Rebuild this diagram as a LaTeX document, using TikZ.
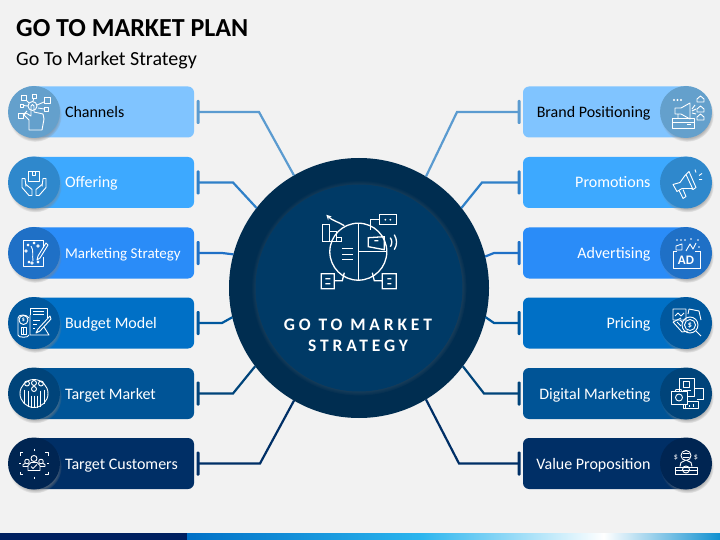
\documentclass[tikz,border=0pt]{standalone}
\usepackage{fontspec}
\setmainfont{Carlito}
\newfontfamily\hubfont[LetterSpace=22]{Carlito}
\usetikzlibrary{shadows}
\definecolor{bgc}{HTML}{F2F2F2}
\definecolor{hubo}{HTML}{002D50}
\definecolor{hubi}{HTML}{003A66}
\definecolor{stripA}{HTML}{002060}
\definecolor{stripB}{HTML}{2BB5EE}
\definecolor{stripC}{HTML}{1090D0}
\definecolor{barA}{HTML}{80C4FF}\definecolor{cirA}{HTML}{64A0CC}\definecolor{conA}{HTML}{5B9BD0}
\definecolor{barB}{HTML}{3DA9FF}\definecolor{cirB}{HTML}{2F88CC}\definecolor{conB}{HTML}{2F80C8}
\definecolor{barC}{HTML}{2A8CF8}\definecolor{cirC}{HTML}{1F70C6}\definecolor{conC}{HTML}{1F70C6}
\definecolor{barD}{HTML}{0070C6}\definecolor{cirD}{HTML}{00589E}\definecolor{conD}{HTML}{00589E}
\definecolor{barE}{HTML}{005496}\definecolor{cirE}{HTML}{00447A}\definecolor{conE}{HTML}{00447A}
\definecolor{barF}{HTML}{002F66}\definecolor{cirF}{HTML}{002552}\definecolor{conF}{HTML}{002F66}
\tikzset{
  x=1pt,y=-1pt,
  barbox/.style={draw=none,rounded corners=6pt,minimum height=51pt,inner sep=0pt,outer sep=0pt},
  discbox/.style={circle,minimum size=52pt,inner sep=0pt,outer sep=0pt,
    circular drop shadow={shadow xshift=1pt,shadow yshift=-3pt,shadow scale=1.03,opacity=.55}},
  labelbox/.style={font=\fontsize{16}{18}\selectfont,text height=14pt,text depth=3pt,inner sep=0pt,outer sep=0pt},
  tee/.style={rectangle,minimum width=3pt,minimum height=24pt,inner sep=0pt,outer sep=0pt,rounded corners=1pt},
  link/.style={line width=2.2pt,line join=miter},
  ico/.style={draw=white,line width=.9pt,fill=none,line join=round},
  hubico/.style={draw=white,line width=1.3pt,fill=none},
}
\newcommand\rowL[6]{%
  \node[barbox,fill=bar#2,minimum width=170pt,anchor=west] (barL#1) at (24,#3) {};
  \node[discbox,fill=cir#2] (discL#1) at (34,#3) {};
  \node[labelbox,anchor=west,text=#5] (txtL#1) at (65,#3) {#4};
  \node[tee,fill=con#2] (teeL#1) at (198,#3) {};
  \draw[link,draw=con#2] (teeL#1.center) -- #6;
}
\newcommand\rowR[6]{%
  \node[barbox,fill=bar#2,minimum width=170pt,anchor=east] (barR#1) at (693,#3) {};
  \node[discbox,fill=cir#2] (discR#1) at (686,#3) {};
  \node[labelbox,anchor=east,text=#5] (txtR#1) at (650.5,#3) {#4};
  \node[tee,fill=con#2] (teeR#1) at (519,#3) {};
  \draw[link,draw=con#2] (teeR#1.center) -- #6;
}
\begin{document}
\begin{tikzpicture}
\useasboundingbox (0,0) rectangle (720,540);
\fill[bgc] (0,0) rectangle (720,540);
% title
\node[anchor=base west,inner sep=0pt,font=\bfseries\fontsize{26}{30}\selectfont] (title) at (16,37) {GO TO MARKET PLAN};
\node[anchor=base west,inner sep=0pt,font=\fontsize{20}{24}\selectfont] (subtitle) at (16,66) {Go To Market Strategy};
% bottom strip
\fill[stripA] (0,533) rectangle (187.5,540);
\shade[left color=barD,right color=stripB] (187,533) rectangle (420,540);
\shade[left color=stripB,right color=white] (419.5,533) rectangle (604,540);
\shade[left color=white,right color=stripC] (603.5,533) rectangle (720,540);
% hub
\node[circle,fill=hubo,minimum size=260pt,inner sep=0pt,outer sep=0pt] (hub) at (359,288) {};
\node[circle,fill=hubi,minimum size=207pt,inner sep=0pt,outer sep=0pt,
  circular drop shadow={shadow xshift=0pt,shadow yshift=0pt,shadow scale=1.04,opacity=.6}] (hubin) at (359,288) {};
\node[font=\hubfont\bfseries\fontsize{17.5}{21}\selectfont,text=white,align=center,inner sep=0pt] (hubtxt) at (358,335.5) {GO TO MARKET\\STRATEGY};
% rows
\rowL{1}{A}{112}{Channels}{black}{(259,112) -- (hub.120.5)}
\rowL{2}{B}{182.5}{Offering}{white}{(233,182.5) -- (hub.142.2)}
\rowL{3}{C}{253}{\fontsize{15}{18}\selectfont Marketing Strategy}{white}{(222,253) -- (hub.165.7)}
\rowL{4}{D}{323}{Budget Model}{white}{(222,323) -- (hub.193.8)}
\rowL{5}{E}{393.5}{Target Market}{white}{(233,393.5) -- (hub.217.5)}
\rowL{6}{F}{463.5}{Target Customers}{white}{(260,463.5) -- (hub.240.3)}
\rowR{1}{A}{112}{Brand Positioning}{black}{(457,112) -- (hub.59.9)}
\rowR{2}{B}{182.5}{Promotions}{white}{(482,182.5) -- (hub.38.8)}
\rowR{3}{C}{253}{Advertising}{white}{(494,253) -- (hub.14.3)}
\rowR{4}{D}{323}{Pricing}{white}{(494,323) -- (hub.-13.8)}
\rowR{5}{E}{393.5}{Digital Marketing}{white}{(484,393.5) -- (hub.-37.5)}
\rowR{6}{F}{463.5}{Value Proposition}{white}{(459,463.5) -- (hub.-59)}
% hub icon
\begin{scope}[shift={(358.3,251.7)}]
 \draw[hubico] (0,0) circle (28.5);
 \draw[hubico] (0,-28.5) -- (0,28.5) (0,0) -- (28.5,0);
 \draw[hubico] (-16,-3) -- (-5,-3) (-16,3) -- (-5,3) (-16,8) -- (-5,8);
 \draw[hubico] (-36,-27) rectangle (-29,-10) (-29,-20) rectangle (-22,-10) (-22,-14) rectangle (-17,-10);
 \draw[hubico,-stealth] (-14,-26) .. controls (-20,-30) and (-26,-31) .. (-32,-37);
 \draw[hubico] (-37,22) rectangle (-24,37) (-33,27) -- (-28,27) (-33,32) -- (-28,32) (-24,29) -- (-16,29) -- (-14,21);
 \draw[hubico] (24,22) rectangle (38,37) (29,27) -- (33,27) (29,32) -- (33,32) (24,29) -- (16,29) -- (14,21);
 \draw[hubico] (21,-37) rectangle (38,-27) (21,-32) -- (12,-32) -- (12,-22);
 \draw[hubico] (10,-14) -- (10,-5) -- (26,-2) -- (26,-15) -- cycle (16,-11) -- (20,-11);
 \draw[hubico] (32,-14) .. controls (34,-11) and (34,-8) .. (32,-5) (36,-17) .. controls (39,-12) and (39,-7) .. (36,-2);
 \fill[white] (27,-32) circle (1) (32,-32) circle (1);
\end{scope}
% L1 channels
\begin{scope}[shift={(34,112)}]
 \draw[ico] (-5,18) -- (-5,8) -- (-10,3) -- (-8,1) -- (-3,4) -- (-3,-6) .. controls (-3,-8) and (0,-8) .. (0,-6) -- (0,0) -- (9,2) -- (10,7) -- (8,18) -- cycle;
 \draw[ico] (-1.5,-6) circle (4.5);
 \draw[ico] (-13,-17) rectangle (-8,-12) (-2,-18) rectangle (2,-14) (10,-15) rectangle (16,-9) (-14,-8) rectangle (-11,-5) (10,-5) rectangle (14,-1) (-16,1) rectangle (-11,6);
 \draw[ico] (-8,-12) -- (-5,-9) (0,-14) -- (-1,-11) (10,-10) -- (3,-7) (-11,-6.5) -- (-6,-6) (10,-3) -- (4,-4) (-11,3) -- (-7,-1);
\end{scope}
% L2 offering
\begin{scope}[shift={(34,182.5)}]
 \draw[ico] (-6,-11) rectangle (5,-1) (-2,-11) -- (-2,-7) -- (1,-7) -- (1,-11);
 \draw[ico] (-12,-4) -- (-12,5) -- (-5,13) -- (-2,13) -- (-2,7) -- (-8,2);
 \draw[ico] (-12,-4) -- (-9,-4) -- (-8,4);
 \draw[ico] (12,-4) -- (12,5) -- (5,13) -- (2,13) -- (2,7) -- (8,2);
 \draw[ico] (12,-4) -- (9,-4) -- (8,4);
\end{scope}
% L3 marketing strategy
\begin{scope}[shift={(34,253)}]
 \draw[ico] (9,-5) -- (9,-13) -- (-11,-13) -- (-11,13) -- (9,13) -- (9,4);
 \draw[ico] (12,-10) -- (4,3) -- (3,7) -- (6,5) -- (14,-8) -- cycle;
 \draw[ico] (-7,-9) -- (-5,-7) (-7,-7) -- (-5,-9) (-1,-11) -- (1,-9) (-1,-9) -- (1,-11) (-6,8) -- (-4,10) (-6,10) -- (-4,8);
 \draw[ico] (-3,-7) .. controls (0,-3) and (-2,3) .. (-1,8);
 \draw[ico] (-8,-2) circle (1.3) (4,-7) circle (1.3) (-2,10) circle (1.3) (4,9) circle (1);
\end{scope}
% L4 budget
\begin{scope}[shift={(34,323)}]
 \draw[ico] (-4,-15) -- (13,-15) -- (13,-5) (-4,-15) -- (-4,-8) (-1,-12) -- (10,-12) (-1,-9) -- (10,-9);
 \draw[ico] (-4,-8) -- (-4,12) -- (15,12) -- (10,4);
 \draw[ico] (-16,-5) .. controls (-16,-9) and (-7,-9) .. (-5,-5) (-16,-5) -- (-16,12) .. controls (-16,15) and (-5,15) .. (-5,12);
 \draw[ico] (-10.5,-3) circle (4.5);
 \node[text=white,font=\fontsize{6}{6}\selectfont\bfseries,inner sep=0pt] (ic4d) at (-10.5,-3) {\$};
 \draw[ico] (-13,4) rectangle (-8,11) (-10.5,4) -- (-10.5,11);
 \draw[ico] (16,-7) -- (4,6) -- (2,10) -- (6,8) -- (17,-4) -- cycle;
 \draw[ico] (-1,-3) -- (6,-3) (-1,1) -- (3,1) (-1,5) -- (1,5);
\end{scope}
% L5 target market
\begin{scope}[shift={(34,393.5)}]
 \draw[ico] (0,0) circle (14);
 \draw[ico] (-7,-10) circle (2.5) (0,-10.5) circle (2.5) (7,-10) circle (2.5) (0,-4.5) circle (2.5);
 \draw[ico] (-10,-4) -- (-10,10) (-6,-3) -- (-6,13) (-3,2) -- (-3,14) (0,2) -- (0,14) (3,2) -- (3,14) (6,-3) -- (6,13) (10,-4) -- (10,10);
\end{scope}
% L6 target customers
\begin{scope}[shift={(34,463.5)}]
 \draw[ico] (0,-5) circle (3) (-7,-2) circle (2.3) (7,-2) circle (2.3);
 \draw[ico] (-6,7) -- (-6,2) -- (-3,-1) -- (3,-1) -- (6,2) -- (6,7) -- cycle;
 \draw[ico] (-6,3) -- (-11,3) -- (-11,1) -- (-9,0) (6,3) -- (11,3) -- (11,1) -- (9,0);
 \draw[ico] (-3,3) -- (-1,5) -- (3,1);
 \draw[ico] (0,-15) -- (0,-13) (0,13) -- (0,15) (-15,0) -- (-13,0) (13,0) -- (15,0);
 \draw[ico] (-14,-8) -- (-14,-11) -- (-11,-11) (14,-8) -- (14,-11) -- (11,-11) (-14,8) -- (-14,11) -- (-11,11) (14,8) -- (14,11) -- (11,11);
\end{scope}
% R1 brand
\begin{scope}[shift={(686,112)}]
 \draw[ico] (-11,-4) -- (-11,2) -- (-5,2) -- (4,7) -- (4,-9) -- (-5,-4) -- cycle (-8,2) -- (-8,6);
 \draw[ico] (-14,6) -- (-14,16) -- (8,16) -- (8,6) -- cycle (-14,10) -- (8,10) (1,12) -- (5,12);
 \draw[ico] (6,-1) -- (10,-3) (6,1) -- (10,2) (6,-3) -- (9,-7);
 \fill[white] (-12,-12) circle (1.1) (-8.5,-12) circle (1.1) (-5,-12) circle (1.1);
 \foreach \yy in {-12,-2,6}{\draw[ico] (11,\yy+2) -- (11,\yy-1) -- (14.5,\yy-4) -- (18,\yy-1) -- (18,\yy+2) -- cycle;}
\end{scope}
% R2 promotions
\begin{scope}[shift={(686,182.5)}]
 \draw[ico] (-13,2) -- (-9,9) -- (-4,6) -- (5,6) -- (7,7) -- (0,-8) -- (-1,-7) -- (-6,0) -- cycle;
 \draw[ico] (0,-8) -- (3,-11) -- (10,5) -- (7,7);
 \draw[ico] (-7,8) -- (-3,16) -- (0,14) -- (-3,7);
 \draw[ico] (9,-13) -- (10,-10) (13,-7) -- (16,-9) (13,-3) -- (16,-3);
\end{scope}
% R3 advertising
\begin{scope}[shift={(686,253)}]
 \draw[ico] (-13,-2) -- (-13,15) -- (14,15) -- (14,-2) (-13,-2) -- (-9,-2) (9,-2) -- (14,-2);
 \node[text=white,font=\bfseries\fontsize{13}{13}\selectfont,inner sep=0pt] (ic3ad) at (0,7) {AD};
 \draw[ico] (-10,-7) -- (-10,-3) -- (-4,-3) -- (-4,-9) -- cycle (0,-2) -- (4,-9) -- (7,-4) -- (10,-10);
 \fill[white] (-9,-13) circle (.9) (-5,-13) circle (.9) (-1,-13) circle (.9) (5,-14) circle (.9) (12,-13) circle (.9) (13,-6) circle (.9);
\end{scope}
% R4 pricing
\begin{scope}[shift={(686,323)}]
 \draw[ico] (-13,-14) rectangle (0,-3) (-11,-7) -- (-8,-10) -- (-5,-7) -- (-2,-10);
 \draw[ico] (3,-14) -- (13,-12) -- (15,-3) (3,-14) -- (2,-9);
 \draw[ico] (-13,-1) -- (-5,-5) (-13,-1) -- (-4,9) -- (2,8) (-9,-1) -- (-5,3) (-6,-3) -- (-3,0);
 \draw[ico] (4,2) circle (8) (4,2) circle (5.5);
 \draw[ico] (10,8) -- (15,13);
 \node[text=white,font=\bfseries\fontsize{8}{8}\selectfont,inner sep=0pt] (ic4s) at (4,2) {\$};
\end{scope}
% R5 digital
\begin{scope}[shift={(686,393.5)}]
 \draw[ico] (-7,-15) rectangle (8,3) (-3,-12) rectangle (3,-6) (-3,-3) -- (5,-3);
 \draw[ico] (8,-5) -- (17,-5) -- (17,6) -- (11,6);
 \draw[ico,fill=cirE] (-15,-2) rectangle (1,11);
 \draw[ico] (-7,4) circle (3.5) (-11,-2) -- (-10,-4) -- (-5,-4) -- (-4,-2);
 \draw[ico] (-3,11) -- (-3,15) -- (12,15) -- (12,8) -- (1,8) (-1,14) -- (-1,11) (3,13) -- (3,11) (7,13) -- (7,10);
\end{scope}
% R6 value
\begin{scope}[shift={(686,463.5)}]
 \draw[ico] (0,-8) circle (5) (-3,-10) -- (3,-10) (-3,-6) -- (3,-6);
 \draw[ico] (-11,4) -- (-11,11) -- (11,11) -- (11,4) -- cycle (-11,7) -- (11,7);
 \draw[ico] (-6,3) -- (-5,-1) -- (-1,-3) (6,3) -- (5,-1) -- (1,-3);
 \draw[ico] (0,6) circle (3.5);
 \node[text=white,font=\fontsize{8}{8}\selectfont,inner sep=0pt] (ic6a) at (-10,-6) {\$};
 \node[text=white,font=\fontsize{8}{8}\selectfont,inner sep=0pt] (ic6b) at (10,-6) {\$};
\end{scope}
\end{tikzpicture}
\end{document}
